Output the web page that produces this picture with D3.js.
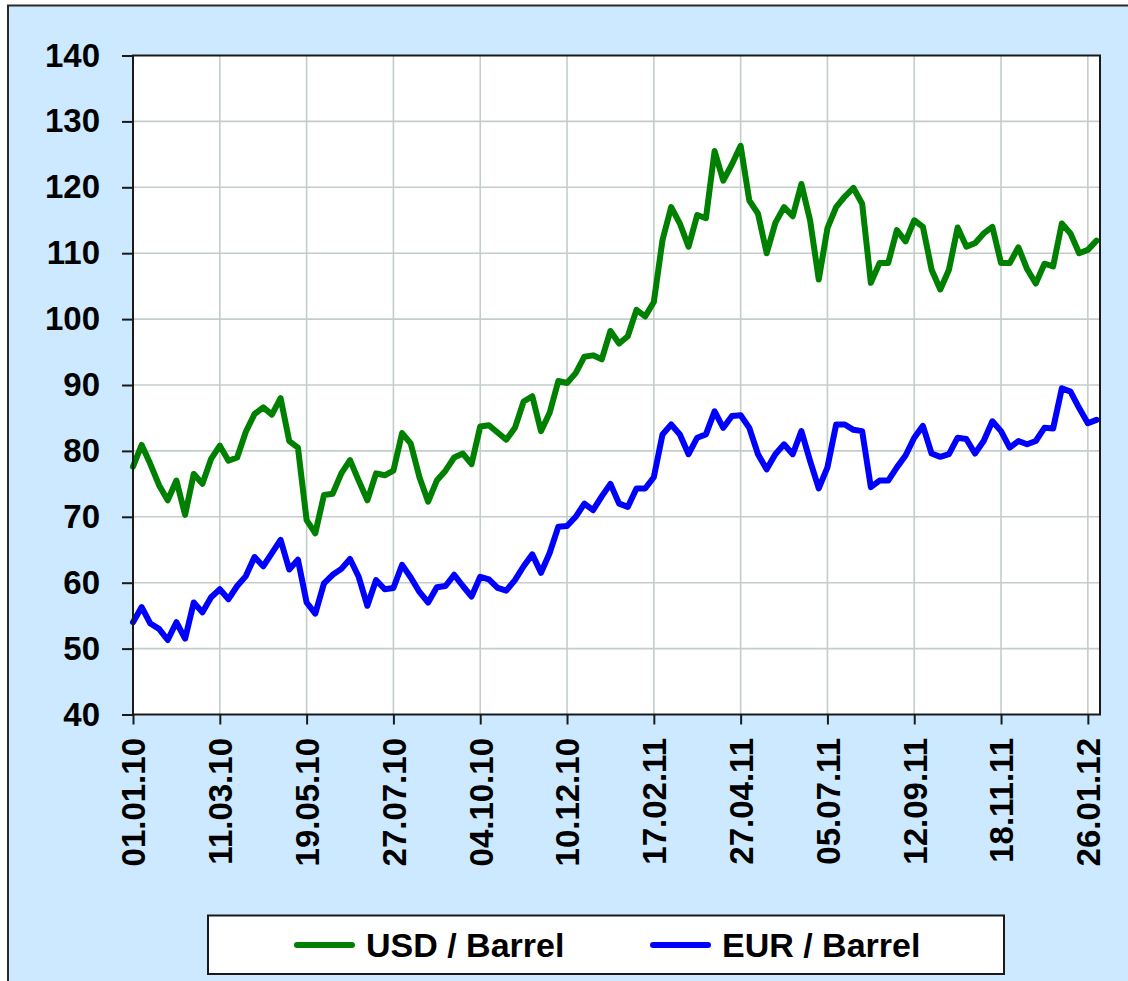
<!DOCTYPE html>
<html>
<head>
<meta charset="utf-8">
<script src="https://cdnjs.cloudflare.com/ajax/libs/d3/7.8.5/d3.min.js"></script>
<style>
  body { margin: 0; background: #fff; }
  svg { display: block; font-family: "Liberation Sans", Arial, sans-serif; font-weight: bold; }
</style>
</head>
<body>
<svg id="chart" width="1128" height="981"></svg>
<script>
/*
 * Values, about one point per trading week
 */
var dateLabels = ['01.01.10', '11.03.10', '19.05.10', '27.07.10', '04.10.10', '10.12.10',
  '17.02.11', '27.04.11', '05.07.11', '12.09.11', '18.11.11', '26.01.12'];
var pointsPerLabel = 10;

var usdPerBarrel = [
  77.6, 80.9, 78.0, 74.8, 72.5, 75.5, 70.3, 76.5, 75.0, 78.8,
  80.8, 78.5, 79.0, 82.9, 85.6, 86.6, 85.5, 88.0, 81.5, 80.5,
  69.5, 67.5, 73.3, 73.5, 76.6, 78.6, 75.5, 72.5, 76.6, 76.3,
  77.0, 82.7, 81.1, 76.0, 72.3, 75.5, 77.0, 79.0, 79.6, 78.0,
  83.7, 83.9, 82.8, 81.7, 83.5, 87.5, 88.3, 83.0, 85.8, 90.6,
  90.3, 91.8, 94.3, 94.5, 93.9, 98.2, 96.3, 97.4, 101.4, 100.4,
  102.6, 112.0, 117.0, 114.5, 111.0, 115.8, 115.3, 125.5, 121.0, 123.5,
  126.3, 118.0, 116.0, 110.0, 114.6, 117.0, 115.6, 120.5, 115.0, 106.0,
  113.8, 117.0, 118.6, 119.9, 117.5, 105.5, 108.5, 108.5, 113.5, 111.8,
  115.0, 114.0, 107.5, 104.5, 107.5, 113.9, 111.0, 111.5, 113.0, 114.0,
  108.5, 108.5, 110.9, 107.6, 105.4, 108.4, 108.0, 114.5, 113.0, 110.0,
  110.5, 111.9
];

var eurPerBarrel = [
  54.0, 56.3, 53.8, 53.0, 51.3, 54.0, 51.5, 57.0, 55.5, 57.8,
  59.0, 57.5, 59.5, 61.0, 63.9, 62.5, 64.5, 66.5, 62.0, 63.5,
  57.0, 55.3, 59.9, 61.2, 62.1, 63.6, 60.9, 56.5, 60.4, 59.0,
  59.2, 62.7, 60.8, 58.6, 57.0, 59.3, 59.5, 61.2, 59.5, 57.9,
  60.9, 60.5, 59.2, 58.8, 60.4, 62.5, 64.3, 61.5, 64.5, 68.5,
  68.6, 70.0, 72.0, 71.0, 73.1, 75.0, 72.0, 71.5, 74.3, 74.3,
  76.0, 82.5, 84.0, 82.5, 79.5, 82.0, 82.5, 86.0, 83.5, 85.3,
  85.4, 83.5, 79.5, 77.2, 79.5, 81.0, 79.5, 83.0, 78.5, 74.3,
  77.5, 84.0, 84.0, 83.2, 83.0, 74.5, 75.5, 75.5, 77.5, 79.3,
  82.0, 83.8, 79.6, 79.1, 79.5, 82.0, 81.8, 79.6, 81.5, 84.5,
  83.0, 80.5, 81.5, 81.0, 81.5, 83.5, 83.4, 89.5, 89.0, 86.5,
  84.2, 84.7
];

var yTickValues = [40, 50, 60, 70, 80, 90, 100, 110, 120, 130, 140];
var legendNames = ['USD / Barrel', 'EUR / Barrel'];
var seriesColors = ['#008000', '#0000ff'];

var svg = d3.select('#chart');

var plot = {
  left: 133,
  right: 1100,
  top: 55.5,
  bottom: 714.5
};

var x = d3.scaleLinear()
  .domain([0, 111.4])
  .range([plot.left, plot.right]);

var y = d3.scaleLinear()
  .domain([40, 140])
  .range([plot.bottom, plot.top]);

var xTickValues = dateLabels.map(function(d, i) {
  return i * pointsPerLabel;
});

// outer frame, runs off the right and bottom edge like the picture
svg.append('rect')
  .attr('x', 8)
  .attr('y', 5.5)
  .attr('width', 1300)
  .attr('height', 1200)
  .attr('fill', '#cce9ff')
  .attr('stroke', '#2a2a2a')
  .attr('stroke-width', 2);

svg.append('rect')
  .attr('x', plot.left)
  .attr('y', plot.top)
  .attr('width', plot.right - plot.left)
  .attr('height', plot.bottom - plot.top)
  .attr('fill', '#fff');

/*
 * Grid
 */
svg.append('g')
  .attr('class', 'grid grid--y')
  .selectAll('line')
  .data(yTickValues.slice(1, -1))
  .enter().append('line')
  .attr('x1', plot.left)
  .attr('x2', plot.right)
  .attr('y1', y)
  .attr('y2', y)
  .attr('stroke', '#c3cdca')
  .attr('stroke-width', 1.6);

svg.append('g')
  .attr('class', 'grid grid--x')
  .selectAll('line')
  .data(xTickValues.slice(1))
  .enter().append('line')
  .attr('x1', x)
  .attr('x2', x)
  .attr('y1', plot.top)
  .attr('y2', plot.bottom)
  .attr('stroke', '#c3cdca')
  .attr('stroke-width', 1.6);

/*
 * Lines
 */
var line = d3.line()
  .x(function(d, i) { return x(i); })
  .y(function(d) { return y(d); });

svg.selectAll('.series')
  .data([usdPerBarrel, eurPerBarrel])
  .enter().append('path')
  .attr('class', 'series')
  .attr('d', line)
  .attr('fill', 'none')
  .attr('stroke', function(d, i) { return seriesColors[i]; })
  .attr('stroke-width', 6)
  .attr('stroke-linejoin', 'round')
  .attr('stroke-linecap', 'round');

// plot border
svg.append('rect')
  .attr('x', plot.left)
  .attr('y', plot.top)
  .attr('width', plot.right - plot.left)
  .attr('height', plot.bottom - plot.top)
  .attr('fill', 'none')
  .attr('stroke', '#1a1a1a')
  .attr('stroke-width', 2);

/*
 * Axes
 */
var yAxis = svg.append('g')
  .attr('class', 'axis axis--y')
  .attr('transform', 'translate(' + plot.left + ', 0)')
  .call(d3.axisLeft(y).tickValues(yTickValues).tickSize(11).tickPadding(22));

var xAxis = svg.append('g')
  .attr('class', 'axis axis--x')
  .attr('transform', 'translate(0, ' + plot.bottom + ')')
  .call(d3.axisBottom(x)
    .tickValues(xTickValues)
    .tickSize(10)
    .tickFormat(function(d, i) { return dateLabels[i]; }));

svg.selectAll('.axis .domain').remove();
svg.selectAll('.axis line')
  .attr('stroke', '#1a1a1a')
  .attr('stroke-width', 2);
svg.selectAll('.axis text')
  .attr('fill', '#000')
  .attr('font-family', '"Liberation Sans", Arial, sans-serif')
  .attr('font-weight', 'bold')
  .attr('font-size', 33);

xAxis.selectAll('text')
  .attr('text-anchor', 'end')
  .attr('x', 0)
  .attr('y', 0)
  .attr('dy', '0.36em')
  .attr('transform', 'translate(0, 23.5) rotate(-90)');

/*
 * Legend
 */
var legend = svg.append('g')
  .attr('class', 'legend');

legend.append('rect')
  .attr('x', 208)
  .attr('y', 915.5)
  .attr('width', 796)
  .attr('height', 58.5)
  .attr('fill', '#fff')
  .attr('stroke', '#1a1a1a')
  .attr('stroke-width', 2);

var legendItem = legend.selectAll('.legend-item')
  .data(legendNames)
  .enter().append('g')
  .attr('class', 'legend-item')
  .attr('transform', function(d, i) {
    return 'translate(' + (297 + i * 356) + ', 945)';
  });

legendItem.append('line')
  .attr('x1', 0)
  .attr('x2', 55)
  .attr('stroke', function(d, i) { return seriesColors[i]; })
  .attr('stroke-width', 6)
  .attr('stroke-linecap', 'round');

legendItem.append('text')
  .attr('x', 69)
  .attr('y', 12)
  .attr('font-size', 34)
  .attr('fill', '#000')
  .text(function(d) { return d; });
</script>
</body>
</html>
